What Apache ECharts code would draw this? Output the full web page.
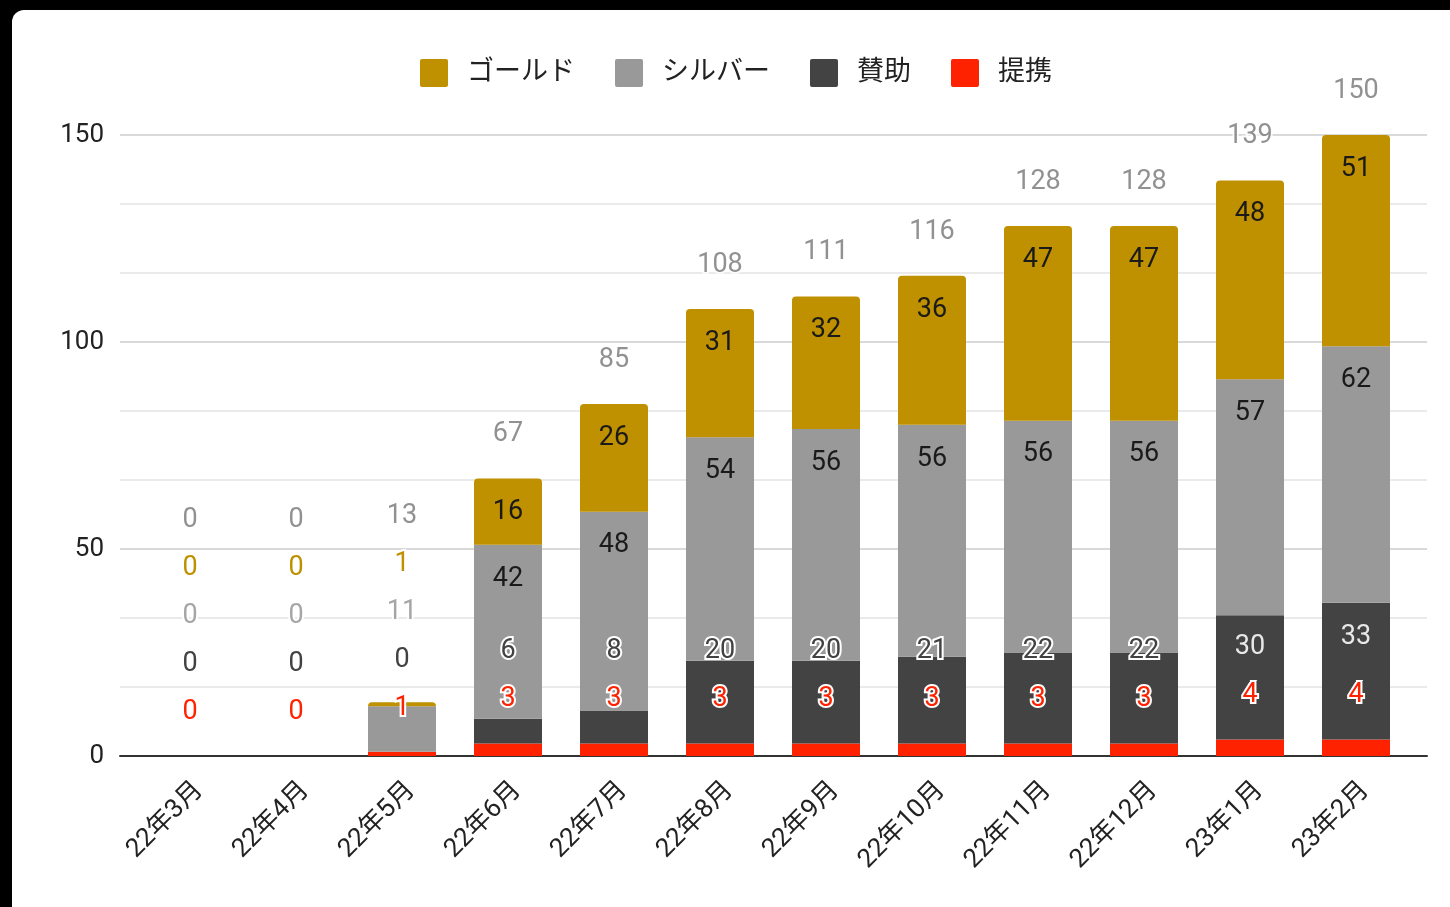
<!DOCTYPE html>
<html><head><meta charset="utf-8">
<script src="https://cdn.jsdelivr.net/npm/echarts@6/dist/echarts.min.js"></script>
<style>
html,body{margin:0;padding:0;background:#000;width:1450px;height:907px;overflow:hidden}
#bg{position:absolute;left:12px;top:10px;right:0;bottom:0;background:#fff;border-top-left-radius:12px}
#c{position:absolute;left:0;top:0;width:1450px;height:907px}
</style></head><body><div id="bg"></div><div id="c"></div>
<script>
// ---- data ----
const categories = ['22年3月','22年4月','22年5月','22年6月','22年7月','22年8月','22年9月','22年10月','22年11月','22年12月','23年1月','23年2月'];
const teikei = [0,0,1,3,3,3,3,3,3,3,4,4];           // 提携
const sanjo  = [0,0,0,6,8,20,20,21,22,22,30,33];     // 賛助
const silver = [0,0,11,42,48,54,56,56,56,56,57,62];  // シルバー
const gold   = [0,0,1,16,26,31,32,36,47,47,48,51];   // ゴールド
const totals = [0,0,13,67,85,108,111,116,128,128,139,150];
const yMin = 0, yMax = 150, yStep = 50;

const FONT = 'Roboto, "Noto Sans CJK JP", sans-serif';
const names  = ['提携','賛助','シルバー','ゴールド'];
const colors = ['#ff2200','#434343','#999999','#bf9000'];
const outsideText = ['#ff2200','#424242','#a6a6a6','#bf9000','#757575'];
const insideText  = ['#ffffff','#e8e8e8','#1a1a1a','#1a1a1a','#757575'];
const values = [teikei, sanjo, silver, gold];

const chart = echarts.init(document.getElementById('c'), null, {renderer:'canvas'});

function baseOption(){
  return {
    animation:false,
    textStyle:{fontFamily:FONT},
    legend:{
      data:['ゴールド','シルバー','賛助','提携'],
      left:415, top:54, itemWidth:28, itemHeight:28, itemGap:40,
      icon:'path://M2,0 L26,0 Q28,0 28,2 L28,26 Q28,28 26,28 L2,28 Q0,28 0,26 L0,2 Q0,0 2,0 Z',
      textStyle:{fontSize:27, color:'#222', fontFamily:FONT, padding:[0,0,0,14]}
    },
    grid:[
      {left:120, right:23, top:135, bottom:151},
      {left:137, right:41, top:135, bottom:151}
    ],
    xAxis:[
      {gridIndex:0, type:'value', min:0, max:1, axisLine:{show:true, onZero:false, lineStyle:{color:'#333', width:2}},
       axisTick:{show:false}, axisLabel:{show:false}, splitLine:{show:false}},
      {gridIndex:1, type:'category', data:categories, axisLine:{show:false}, axisTick:{show:false},
       axisLabel:{rotate:45, fontSize:26, color:'#222', margin:21, interval:0, verticalAlign:'top', fontFamily:FONT}}
    ],
    yAxis:[
      {gridIndex:0, type:'value', min:yMin, max:yMax, interval:yStep,
       axisLine:{show:false}, axisTick:{show:false},
       axisLabel:{fontSize:26, color:'#222', margin:16, fontFamily:FONT},
       splitLine:{lineStyle:{color:'#cccccc', width:1.5}},
       minorTick:{show:false, splitNumber:3},
       minorSplitLine:{show:true, lineStyle:{color:'#e3e3e3', width:1.5}}},
      {gridIndex:1, type:'value', min:yMin, max:yMax, interval:yStep, show:false, splitLine:{show:false}}
    ],
    series:[]
  };
}

function buildSeries(pos){
  const s = values.map((arr, si) => ({
    name:names[si], type:'bar', stack:'total', xAxisIndex:1, yAxisIndex:1,
    barWidth:68,
    itemStyle:{color:colors[si], borderRadius: si===3 ? [4,4,0,0] : 0},
    label:{show:!!pos, fontSize:27, fontFamily:FONT},
    labelLayout: pos ? (p => {const q = pos[p.seriesIndex][p.dataIndex]; return {x:q.x, y:q.y, align:'center', verticalAlign:'middle'};}) : undefined,
    data: arr.map((v,i) => {
      if(!pos) return v;
      const q = pos[si][i];
      return {value:v, label: q.inside
        ? {color:insideText[si], textBorderWidth:0}
        : {color:outsideText[si], textBorderColor:'#fff', textBorderWidth:4}};
    })
  }));
  s.push({
    name:'合計', type:'scatter', xAxisIndex:1, yAxisIndex:1, symbolSize:1,
    itemStyle:{color:'rgba(0,0,0,0)'}, silent:true,
    label:{show:!!pos, fontSize:27, fontFamily:FONT, color:outsideText[4], textBorderColor:'#fff', textBorderWidth:4,
      formatter: p => String(totals[p.dataIndex])},
    labelLayout: pos ? (p => {const q = pos[4][p.dataIndex]; return {x:q.x, y:q.y, align:'center', verticalAlign:'middle'};}) : undefined,
    data: totals.map((v,i) => [i, v])
  });
  return s;
}

const opt = baseOption();
opt.series = buildSeries(null);
chart.setOption(opt);

// label placement rules: segment labels near segment top, pushed up to keep spacing
const pos = [[],[],[],[],[]];
const SHIFT = 3;
for (let i = 0; i < categories.length; i++) {
  let cum = 0;
  const tops = [], bots = [];
  for (let si = 0; si < 4; si++) {
    bots.push(chart.convertToPixel({gridIndex:1}, [i, cum])[1]);
    cum += values[si][i];
    tops.push(chart.convertToPixel({gridIndex:1}, [i, cum])[1]);
  }
  const x = chart.convertToPixel({gridIndex:1}, [i, 0])[0];
  const top = chart.convertToPixel({gridIndex:1}, [i, totals[i]])[1];
  let prev = tops[0] - 47;
  pos[0][i] = {x, y:prev + SHIFT, inside:false};
  for (let si = 1; si < 4; si++) {
    const y = Math.min(tops[si] + 31, prev - 48);
    pos[si][i] = {x, y: y + SHIFT, inside: (y - 10 >= tops[si] && y <= bots[si])};
    prev = y;
  }
  pos[4][i] = {x, y: Math.min(top - 47, prev - 48) + SHIFT, inside:false};
}

const opt2 = baseOption();
opt2.series = buildSeries(pos);
chart.setOption(opt2, true);
</script></body></html>
